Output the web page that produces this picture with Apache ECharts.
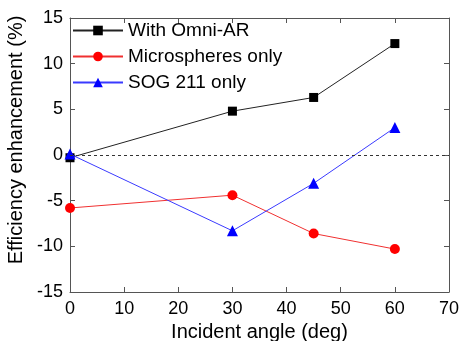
<!DOCTYPE html>
<html>
<head>
<meta charset="utf-8">
<script src="https://cdn.jsdelivr.net/npm/echarts@6/dist/echarts.min.js"></script>
<style>
  html, body { margin: 0; padding: 0; background: #fff; }
  #chart { width: 461px; height: 341px; }
</style>
</head>
<body>
<div id="chart"></div>
<script>
// incident angles (deg)
var angles = [0, 30, 45, 60]
// efficiency enhancement (%)
var omniAR = [-0.3, 4.8, 6.3, 12.2]
var microspheres = [-5.8, -4.4, -8.6, -10.3]
var sog211 = [0.1, -8.3, -3.1, 3.0]
var seriesNames = ['With Omni-AR', 'Microspheres only', 'SOG 211 only']

function pairs (ys) {
  return angles.map(function (a, i) { return [a, ys[i]] })
}

var font = 'Arial, "Liberation Sans", sans-serif'
var axisColor = '#555'

var myChart = echarts.init(document.getElementById('chart'))
var option = {
  animation: false,
  grid: { left: 70, right: 12, top: 18, bottom: 49, outerBoundsMode: 'none', containLabel: false },
  legend: {
    orient: 'vertical',
    left: 67,
    top: 16,
    itemWidth: 50,
    itemHeight: 12,
    itemGap: 7,
    textStyle: { fontFamily: font, fontSize: 19, color: '#000' },
    data: seriesNames
  },
  xAxis: [
    {
      type: 'value',
      min: 0,
      max: 70,
      interval: 10,
      name: 'Incident angle (deg)',
      nameLocation: 'middle',
      nameGap: 30,
      nameTextStyle: { fontFamily: font, fontSize: 20, color: '#000' },
      axisLine: { onZero: false, lineStyle: { color: axisColor, width: 1 } },
      axisTick: { inside: true, length: 5, lineStyle: { color: axisColor } },
      axisLabel: { fontFamily: font, fontSize: 18, color: '#000', margin: 8 },
      splitLine: { show: false }
    },
    {
      type: 'value',
      position: 'top',
      min: 0,
      max: 70,
      interval: 10,
      axisLine: { onZero: false, lineStyle: { color: axisColor, width: 1 } },
      axisTick: { inside: true, length: 5, lineStyle: { color: axisColor } },
      axisLabel: { show: false },
      splitLine: { show: false }
    }
  ],
  yAxis: [
    {
      type: 'value',
      min: -15,
      max: 15,
      interval: 5,
      name: 'Efficiency enhancement (%)',
      nameLocation: 'middle',
      nameGap: 42,
      nameTextStyle: { fontFamily: font, fontSize: 20, color: '#000', padding: [0, 0, 0, 30] },
      axisLine: { show: true, onZero: false, lineStyle: { color: axisColor, width: 1 } },
      axisTick: { show: true, inside: true, length: 5, lineStyle: { color: axisColor } },
      axisLabel: { fontFamily: font, fontSize: 18, color: '#000', margin: 7 },
      splitLine: { show: false }
    },
    {
      type: 'value',
      position: 'right',
      min: -15,
      max: 15,
      interval: 5,
      axisLine: { show: true, onZero: false, lineStyle: { color: axisColor, width: 1 } },
      axisTick: { show: true, inside: true, length: 5, lineStyle: { color: axisColor } },
      axisLabel: { show: false },
      splitLine: { show: false }
    }
  ],
  series: [
    {
      name: seriesNames[0],
      type: 'line',
      data: pairs(omniAR),
      symbol: 'rect',
      symbolSize: 9,
      itemStyle: { color: '#000' },
      lineStyle: { color: '#222', width: 1 },
      z: 3,
      markLine: {
        silent: true,
        symbol: 'none',
        label: { show: false },
        lineStyle: { color: '#333', type: [3, 3], width: 1 },
        data: [{ yAxis: 0 }]
      }
    },
    {
      name: seriesNames[1],
      type: 'line',
      data: pairs(microspheres),
      symbol: 'circle',
      symbolSize: 10,
      itemStyle: { color: '#ff0000' },
      lineStyle: { color: '#f03030', width: 1 }
    },
    {
      name: seriesNames[2],
      type: 'line',
      data: pairs(sog211),
      symbol: 'triangle',
      symbolSize: 11,
      itemStyle: { color: '#0000ff' },
      lineStyle: { color: '#3a3aff', width: 1 },
      z: 4
    }
  ]
}
myChart.setOption(option)
</script>
</body>
</html>
